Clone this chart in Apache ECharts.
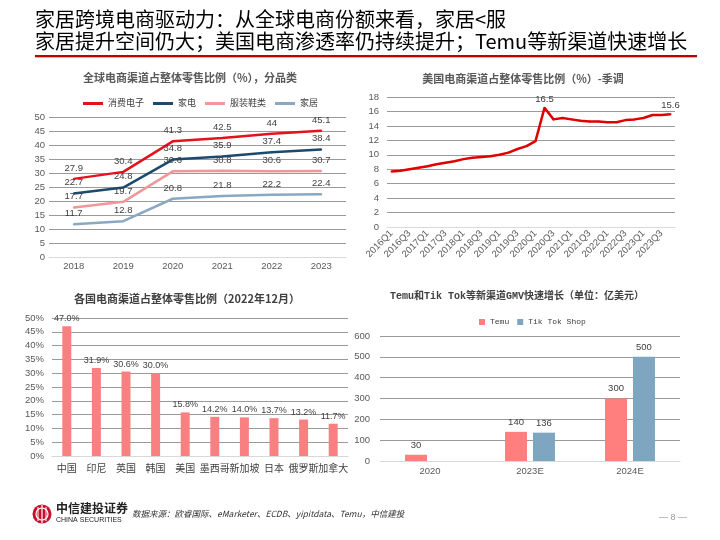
<!DOCTYPE html>
<html><head><meta charset="utf-8">
<script src="https://cdn.jsdelivr.net/npm/echarts@6/dist/echarts.min.js"></script>
<style>html,body{margin:0;padding:0;background:#fff}#c{width:720px;height:540px}</style>
</head><body><div id="c"></div>
<script>
// ---- data ----
const years = ['2018','2019','2020','2021','2022','2023'];
const consumerElec = [27.9,30.4,41.3,42.5,44,45.1];
const homeAppliance = [22.7,24.8,34.8,35.9,37.4,38.4];
const apparel = [17.7,19.7,30.6,30.8,30.6,30.7];
const homeFurnishing = [11.7,12.8,20.8,21.8,22.2,22.4];

const quarters = ['2016Q1','2016Q2','2016Q3','2016Q4','2017Q1','2017Q2','2017Q3','2017Q4',
  '2018Q1','2018Q2','2018Q3','2018Q4','2019Q1','2019Q2','2019Q3','2019Q4',
  '2020Q1','2020Q2','2020Q3','2020Q4','2021Q1','2021Q2','2021Q3','2021Q4',
  '2022Q1','2022Q2','2022Q3','2022Q4','2023Q1','2023Q2','2023Q3','2023Q4'];
const usShare = [7.7,7.8,8.0,8.2,8.4,8.7,8.9,9.1,9.4,9.6,9.7,9.8,10.0,10.3,10.8,11.2,
  11.9,16.5,14.9,15.1,14.9,14.7,14.6,14.6,14.5,14.5,14.8,14.9,15.1,15.5,15.5,15.6];

const countries = ['中国','印尼','英国','韩国','美国','墨西哥','新加坡','日本','俄罗斯','加拿大'];
const countryShare = [47.0,31.9,30.6,30.0,15.8,14.2,14.0,13.7,13.2,11.7];

const gmvYears = ['2020','2023E','2024E'];
const temuGMV = [30,140,300];
const tiktokGMV = [null,136,500];

// ---- chart ----
const FONT = '"Liberation Sans","Noto Sans CJK SC",sans-serif';
const MONO = '"Liberation Mono","Noto Sans CJK SC",monospace';
const gridLine = {show:true, lineStyle:{color:'#9a9a9a', width:1.2}};
const axLab = {color:'#595959', fontSize:9.5, fontFamily:FONT};
const peakIdx = usShare.indexOf(Math.max(...usShare));
const lastIdx = usShare.length - 1;

function lineSeries(name, data, color){
  return {name, type:'line', xAxisIndex:0, yAxisIndex:0, data, symbol:'circle', symbolSize:2,
    lineStyle:{color, width:2.5}, itemStyle:{color},
    labelLayout:{hideOverlap:false},
    label:{show:true, position:'top', distance:5, color:'#404040', fontSize:9.5, fontFamily:FONT}};
}

const chart = echarts.init(document.getElementById('c'), null, {renderer:'canvas'});
chart.setOption({
  animation:false,
  textStyle:{fontFamily:FONT},
  grid:[
    {left:49, right:374, top:117, bottom:283},
    {left:387, right:45, top:97, bottom:313},
    {left:52, right:372, top:318, bottom:84},
    {left:380, right:40, top:336, bottom:79}
  ],
  legend:[
    {data:['消费电子','家电','服装鞋类','家居'], left:78, top:94, icon:'rect', itemWidth:20, itemHeight:3,
     itemGap:9, textStyle:{fontSize:9, color:'#404040', fontFamily:FONT}},
    {data:['Temu','Tik Tok Shop'], left:474, top:313, icon:'rect', itemWidth:6, itemHeight:6,
     itemGap:8, textStyle:{fontSize:8, color:'#404040', fontFamily:MONO}}
  ],
  xAxis:[
    {gridIndex:0, type:'category', data:years, boundaryGap:true,
     axisLine:{lineStyle:{color:'#d9d9d9'}}, axisTick:{show:false}, axisLabel:{...axLab, margin:5}},
    {gridIndex:1, type:'category', data:quarters, boundaryGap:true,
     axisLine:{lineStyle:{color:'#d9d9d9'}}, axisTick:{show:false},
     axisLabel:{...axLab, fontSize:9.5, interval:1, rotate:45, margin:5}},
    {gridIndex:2, type:'category', data:countries, boundaryGap:true,
     axisLine:{lineStyle:{color:'#d9d9d9'}}, axisTick:{show:false}, axisLabel:{...axLab, fontSize:10, color:'#404040', interval:0, margin:8}},
    {gridIndex:3, type:'category', data:gmvYears, boundaryGap:true,
     axisLine:{lineStyle:{color:'#d9d9d9'}}, axisTick:{show:false}, axisLabel:{...axLab, margin:6}}
  ],
  yAxis:[
    {gridIndex:0, type:'value', min:0, max:50, interval:5, splitLine:gridLine,
     axisLine:{show:false}, axisTick:{show:false}, axisLabel:{...axLab, margin:4}},
    {gridIndex:1, type:'value', min:0, max:18, interval:2, splitLine:gridLine,
     axisLine:{show:false}, axisTick:{show:false}, axisLabel:{...axLab, margin:8}},
    {gridIndex:2, type:'value', min:0, max:50, interval:5, splitLine:gridLine,
     axisLine:{show:false}, axisTick:{show:false}, axisLabel:{...axLab, margin:8, formatter:'{value}%'}},
    {gridIndex:3, type:'value', min:0, max:600, interval:100, splitLine:gridLine,
     axisLine:{show:false}, axisTick:{show:false}, axisLabel:{...axLab, margin:10}}
  ],
  series:[
    lineSeries('消费电子', consumerElec, '#e3131b'),
    lineSeries('家电', homeAppliance, '#1b4a6e'),
    lineSeries('服装鞋类', apparel, '#f0979a'),
    lineSeries('家居', homeFurnishing, '#8aa8c2'),
    {name:'美国', type:'line', xAxisIndex:1, yAxisIndex:1, data:usShare, symbol:'circle', symbolSize:2,
     lineStyle:{color:'#e00000', width:2.5}, itemStyle:{color:'#e00000'},
     label:{show:true, position:'top', distance:3, color:'#404040', fontSize:9.5,
       formatter:p => (p.dataIndex===peakIdx || p.dataIndex===lastIdx) ? String(p.value) : ''}},
    {name:'占比', type:'bar', xAxisIndex:2, yAxisIndex:2, data:countryShare, barWidth:9,
     itemStyle:{color:'#f98080'},
     label:{show:true, position:'top', distance:3, color:'#404040', fontSize:9,
       formatter:p => p.value.toFixed(1)+'%'}},
    {name:'Temu', type:'bar', xAxisIndex:3, yAxisIndex:3, data:temuGMV, barWidth:22, barGap:'27%',
     itemStyle:{color:'#ff7f7f'},
     label:{show:true, position:'top', distance:5, color:'#404040', fontSize:9.5}},
    {name:'Tik Tok Shop', type:'bar', xAxisIndex:3, yAxisIndex:3, data:tiktokGMV, barWidth:22,
     itemStyle:{color:'#7fa6c0'},
     label:{show:true, position:'top', distance:5, color:'#404040', fontSize:9.5}}
  ],
  graphic:[
    {type:'text', left:35, top:9, style:{text:'家居跨境电商驱动力：从全球电商份额来看，家居<服',
      font:'normal 20px "Noto Sans CJK SC"', fill:'#000'}},
    {type:'text', left:35, top:31, style:{text:'家居提升空间仍大；美国电商渗透率仍持续提升；Temu等新渠道快速增长',
      font:'normal 20px "Noto Sans CJK SC"', fill:'#000'}},
    {type:'rect', shape:{x:35, y:55, width:662, height:2}, style:{fill:'#c00000'}},
    {type:'rect', shape:{x:35, y:57, width:662, height:1}, style:{fill:'#e6b3b3'}},
    {type:'text', x:190, y:78, style:{text:'全球电商渠道占整体零售比例（%），分品类', textAlign:'center', textVerticalAlign:'middle',
      font:'bold 11px "Noto Sans CJK SC"', fill:'#595959'}},
    {type:'text', x:523, y:79, style:{text:'美国电商渠道占整体零售比例（%）-季调', textAlign:'center', textVerticalAlign:'middle',
      font:'bold 11px "Noto Sans CJK SC"', fill:'#595959'}},
    {type:'text', x:187, y:299, style:{text:'各国电商渠道占整体零售比例（2022年12月）', textAlign:'center', textVerticalAlign:'middle',
      font:'bold 11px "Noto Sans CJK SC"', fill:'#404040'}},
    {type:'text', x:517, y:296, style:{text:'Temu和Tik Tok等新渠道GMV快速增长（单位：亿美元）', textAlign:'center', textVerticalAlign:'middle',
      font:'bold 10px "Liberation Mono","Noto Sans CJK SC"', fill:'#404040'}},
    // footer
    {type:'circle', shape:{cx:42, cy:514, r:9.5}, style:{fill:'#c8102e'}},
    {type:'circle', shape:{cx:42, cy:514, r:6}, style:{fill:'none', stroke:'#fff', lineWidth:1.2}},
    {type:'line', shape:{x1:42, y1:505, x2:42, y2:523}, style:{stroke:'#fff', lineWidth:1.2}},
    {type:'line', shape:{x1:38, y1:507, x2:38, y2:521}, style:{stroke:'#fff', lineWidth:1}},
    {type:'line', shape:{x1:46, y1:507, x2:46, y2:521}, style:{stroke:'#fff', lineWidth:1}},
    {type:'text', x:56, y:508, style:{text:'中信建投证券', textVerticalAlign:'middle',
      font:'bold 12px "Noto Sans CJK SC"', fill:'#222'}},
    {type:'text', x:56, y:520, style:{text:'CHINA SECURITIES', textVerticalAlign:'middle',
      font:'7px "Liberation Sans"', fill:'#222'}},
    {type:'text', x:132, y:514, style:{text:'数据来源：欧睿国际、eMarketer、ECDB、yipitdata、Temu，中信建投', textVerticalAlign:'middle',
      font:'italic 8.5px "Noto Sans CJK SC"', fill:'#333'}},
    {type:'text', x:673, y:518, style:{text:'— 8 —', textAlign:'center', textVerticalAlign:'middle',
      font:'9px "Liberation Sans"', fill:'#999'}}
  ]
});
</script></body></html>
